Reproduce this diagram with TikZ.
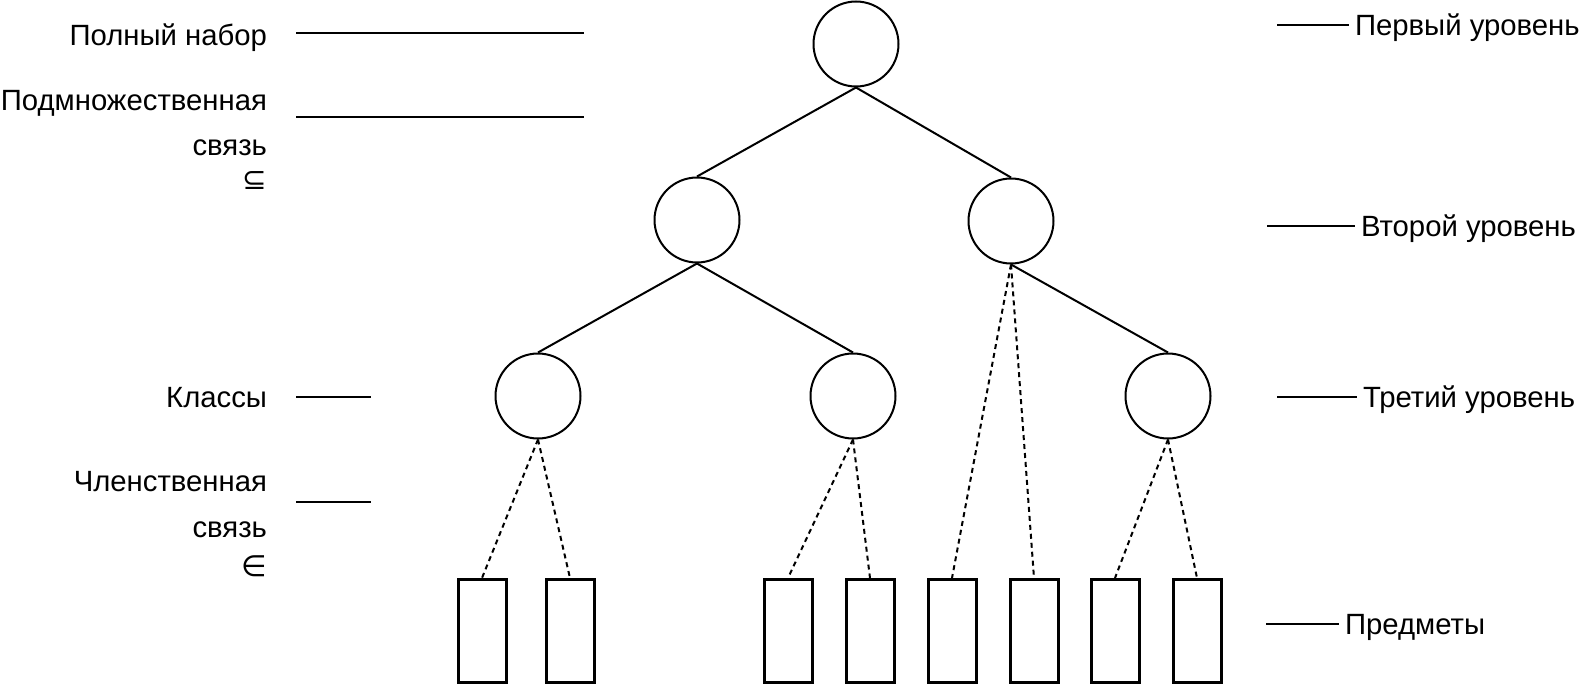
\documentclass[tikz,border=0pt]{standalone}
\usepackage{fontspec}
\setmainfont{Liberation Sans}
\newfontfamily\symfont{DejaVu Sans}
\usetikzlibrary{positioning}

\begin{document}
\begin{tikzpicture}[x=1pt, y=-1pt, line width=2pt,
		lvl/.style={circle, draw, line width=2pt, minimum size=85pt, inner sep=0pt},
		item/.style={rectangle, draw, line width=3pt, minimum width=48pt, minimum height=103pt, inner sep=0pt},
		lbl/.style={font=\fontsize{29.3}{33}\selectfont, inner sep=0pt, text height=21pt, text depth=0pt},
		memb/.style={line width=2pt, dash pattern=on 5pt off 4pt},
		tick/.style={line width=2.5pt},
		thin tick/.style={line width=1.5pt}]
		\useasboundingbox (0,0) rectangle (1583,685);
		% levels
		\node[lvl] (L1)  at (856, 44)  {};
		\node[lvl] (L2a) at (697, 220) {};
		\node[lvl] (L2b) at (1011,221) {};
		\node[lvl] (L3a) at (538, 396) {};
		\node[lvl] (L3b) at (853, 396) {};
		\node[lvl] (L3c) at (1168,396) {};
		\foreach \x [count=\i] in {482,570,788,870,952,1034,1115,1197}
			\node[item] (P\i) at (\x, 631) {};
		\draw (L1.south)  -- (L2a.north);
		\draw (L1.south)  -- (L2b.north);
		\draw (L2a.south) -- (L3a.north);
		\draw (L2a.south) -- (L3b.north);
		\draw (L2b.south) -- (L3c.north);
		\draw[memb] (L3a.south) -- (P1.north);
		\draw[memb] (L3a.south) -- (P2.north);
		\draw[memb] (L3b.south) -- (P3.north);
		\draw[memb] (L3b.south) -- (P4.north);
		\draw[memb] (L2b.south) -- (P5.north);
		\draw[memb] (L2b.south) -- (P6.north);
		\draw[memb] (L3c.south) -- (P7.north);
		\draw[memb] (L3c.south) -- (P8.north);
		% left side
		\node[lbl, anchor=east] (tFull) at (268, 35)  {Полный набор};
		\node[lbl, anchor=east] (tSub)  at (268, 100) {Подмножественная};
		\node[lbl, anchor=east] (tSub2) at (268, 145) {связь};
		\node[lbl, anchor=east] (tSub3) at (268, 179) {\symfont ⊆};
		\node[lbl, anchor=east] (tCls)  at (268, 397) {Классы};
		\node[lbl, anchor=east] (tMem)  at (268, 481) {Членственная};
		\node[lbl, anchor=east] (tMem2) at (268, 527) {связь};
		\node[lbl, anchor=east] (tMem3) at (268, 566) {\symfont ∈};
		\coordinate (fA) at (296, 33);  \coordinate (fB) at (584, 33);
		\coordinate (sA) at (296, 117); \coordinate (sB) at (584, 117);
		\coordinate (cA) at (296, 397); \coordinate (cB) at (371, 397);
		\coordinate (mA) at (296, 502); \coordinate (mB) at (371, 502);
		\draw[tick] (fA) -- (fB);
		\draw[tick] (sA) -- (sB);
		\draw[tick] (cA) -- (cB);
		\draw[tick] (mA) -- (mB);
		% right side
		\node[lbl, anchor=west, inner xsep=5pt] (tFirst)  at (1349, 25)  {Первый уровень};
		\node[lbl, anchor=west, inner xsep=5pt] (tSecond) at (1355, 226) {Второй уровень};
		\node[lbl, anchor=west, inner xsep=5pt] (tThird)  at (1357, 397) {Третий уровень};
		\node[lbl, anchor=west, inner xsep=5pt] (tItems)  at (1339, 624) {Предметы};
		\coordinate (r1) at (1277, 25);
		\coordinate (r2) at (1267, 226);
		\coordinate (r3) at (1277, 397);
		\coordinate (r4) at (1266, 624);
		\draw[thin tick] (r1) -- (tFirst.west);
		\draw[tick]      (r2) -- (tSecond.west);
		\draw[thin tick] (r3) -- (tThird.west);
		\draw[tick]      (r4) -- (tItems.west);
	\end{tikzpicture}
\end{document}
